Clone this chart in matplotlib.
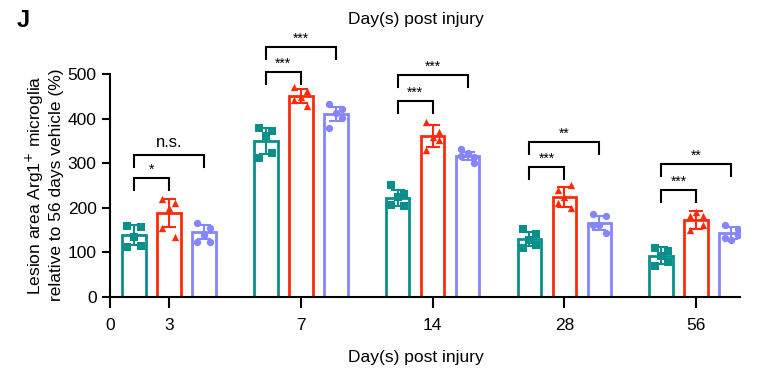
import numpy as np
import matplotlib
matplotlib.use("Agg")
import matplotlib.pyplot as plt

plt.rcParams['font.family'] = ['Liberation Sans', 'DejaVu Sans']

days = ["3", "7", "14", "28", "56"]
groups = ["teal", "red", "purple"]

teal_mean = [139, 350, 222, 130, 92]
teal_sd = [23, 29, 17, 16, 19]
red_mean = [188, 451, 361, 224, 173]
red_sd = [32, 15, 25, 22, 20]
purple_mean = [146, 410, 316, 166, 143]
purple_sd = [16, 15, 9, 15, 14]

teal_pts = [[160, 158, 135, 113, 115],
            [380, 372, 360, 312, 322],
            [251, 230, 225, 206, 203],
            [152, 141, 128, 109, 117],
            [109, 102, 92, 70, 79]]
red_pts = [[219, 211, 200, 155, 135],
           [470, 461, 449, 442, 428],
           [393, 371, 358, 330, 352],
           [241, 251, 224, 210, 199],
           [182, 182, 191, 150, 161]]
purple_pts = [[165, 154, 139, 124, 124],
              [433, 421, 413, 380, 401],
              [332, 301, 322, 316, 313],
              [185, 182, 161, 161, 143],
              [161, 152, 128, 132, 139]]

# (group index, left bar, right bar, bracket height, label)
brackets = [(0, 0, 1, 267, "*"), (0, 0, 2, 318, "n.s."),
            (1, 0, 1, 504, "***"), (1, 0, 2, 560, "***"),
            (2, 0, 1, 440, "***"), (2, 0, 2, 498, "***"),
            (3, 0, 1, 291, "***"), (3, 0, 2, 348, "**"),
            (4, 0, 1, 240, "***"), (4, 0, 2, 298, "**")]

colors = ["#0a8f8a", "#ff2a0a", "#8585ff"]
markers = ["s", "^", "o"]


def draw_bracket(ax, x1, x2, y, label):
    h = 27
    ax.plot([x1, x1, x2, x2], [y - h, y, y, y - h], color="black", lw=1.5,
            clip_on=False, solid_joinstyle="miter")
    if label == "n.s.":
        ax.text((x1 + x2) / 2, y + 12, label, ha="center", va="bottom",
                fontsize=12, clip_on=False)
    else:
        ax.text((x1 + x2) / 2, y + 3, label, ha="center", va="bottom",
                fontsize=10, clip_on=False)


def main():
    fig = plt.figure(figsize=(7.58, 3.74), dpi=100)
    ax = fig.add_axes([0.145, 0.206, 0.831, 0.596])

    x = np.arange(1, len(days) + 1)
    off = 0.265
    width = 0.18
    jitter = [-0.05, 0.05, 0.0, -0.05, 0.05]

    means = [teal_mean, red_mean, purple_mean]
    sds = [teal_sd, red_sd, purple_sd]
    pts = [teal_pts, red_pts, purple_pts]
    for k in range(3):
        xs = x + (k - 1) * off
        ax.bar(xs, means[k], width=width, facecolor="white",
               edgecolor=colors[k], linewidth=2, zorder=2)
        ax.errorbar(xs, means[k], yerr=sds[k], fmt="none", ecolor=colors[k],
                    elinewidth=1.5, capsize=5, capthick=1.5, zorder=4)
        for i in range(len(days)):
            ax.scatter(xs[i] + np.array(jitter), pts[k][i], marker=markers[k],
                       s=28, color=colors[k], zorder=3, linewidths=0)

    for g, a, b, y, lab in brackets:
        draw_bracket(ax, x[g] + (a - 1) * off, x[g] + (b - 1) * off, y, lab)

    ax.set_ylim(0, 500)
    ax.set_xlim(0.553, 5.33)
    ax.set_yticks([0, 100, 200, 300, 400, 500])
    ax.set_xticks([0.553] + list(x))
    ax.set_xticklabels(["0"] + days)
    ax.tick_params(axis="both", labelsize=12.5, width=1.5, length=6)
    ax.tick_params(axis="x", length=8, pad=7)
    for s in ["top", "right"]:
        ax.spines[s].set_visible(False)
    for s in ["left", "bottom"]:
        ax.spines[s].set_linewidth(1.5)

    fig.text(0.058, 0.505, "Lesion area Arg1$^{+}$ microglia\nrelative to 56 days vehicle (%)",
             rotation=90, ha="center", va="center", fontsize=12.5, linespacing=1.25)
    fig.text(0.548, 0.043, "Day(s) post injury", ha="center", va="center", fontsize=12.5)
    fig.text(0.548, 0.947, "Day(s) post injury", ha="center", va="center", fontsize=12.5)
    fig.text(0.03, 0.945, "J", ha="center", va="center", fontsize=17, fontweight="bold")

    fig.savefig("out.png", dpi=100)


if __name__ == '__main__':
    main()
